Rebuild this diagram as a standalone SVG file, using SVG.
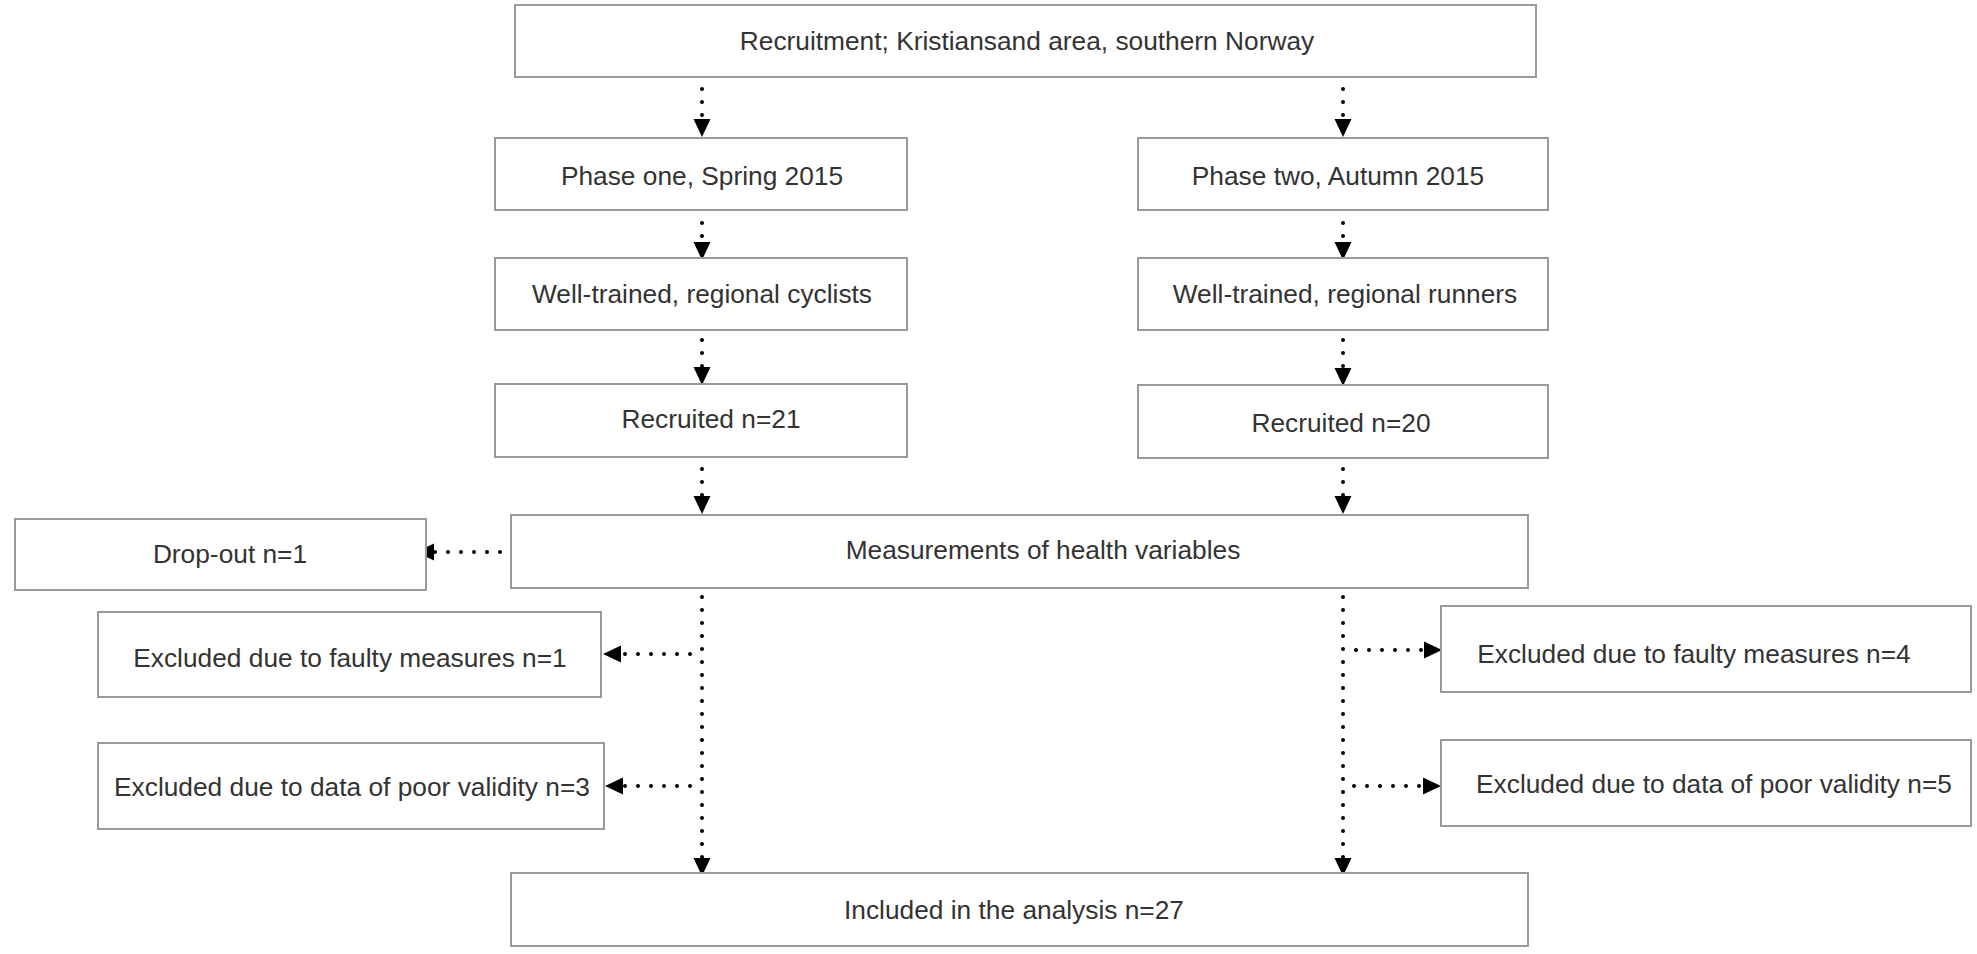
<svg xmlns="http://www.w3.org/2000/svg" width="1977" height="954" viewBox="0 0 1977 954">
<style>
.box{fill:#fff;stroke:#9a9a9a;stroke-width:2}
.t{font-family:"Liberation Sans",Arial,sans-serif;font-size:26.3px;fill:#333;text-anchor:middle}
.c{fill:none;stroke:#000;stroke-width:4;stroke-linecap:round;stroke-dasharray:0 13}
</style>
<defs>
<marker id="ah" markerUnits="userSpaceOnUse" markerWidth="20" markerHeight="20" viewBox="0 0 20 20" refX="19" refY="10" orient="auto">
<path d="M1,1.5 L19,10 L1,18.5 Z" fill="#000"/>
</marker>
</defs>
<rect width="1977" height="954" fill="#fff"/>
<g id="connectors">
<line class="c" x1="702" y1="89" x2="702" y2="137" marker-end="url(#ah)"/>
<line class="c" x1="1343" y1="89" x2="1343" y2="137" marker-end="url(#ah)"/>
<line class="c" x1="702" y1="223" x2="702" y2="260" marker-end="url(#ah)"/>
<line class="c" x1="1343" y1="223" x2="1343" y2="260" marker-end="url(#ah)"/>
<line class="c" x1="702" y1="340" x2="702" y2="385" marker-end="url(#ah)"/>
<line class="c" x1="1343" y1="340" x2="1343" y2="386" marker-end="url(#ah)"/>
<line class="c" x1="702" y1="469" x2="702" y2="514" marker-end="url(#ah)"/>
<line class="c" x1="1343" y1="469" x2="1343" y2="514" marker-end="url(#ah)"/>
<line class="c" x1="500" y1="552" x2="416" y2="552" marker-end="url(#ah)"/>
<line class="c" x1="702" y1="597" x2="702" y2="876" marker-end="url(#ah)"/>
<line class="c" x1="1343" y1="597" x2="1343" y2="876" marker-end="url(#ah)"/>
<line class="c" x1="690" y1="654" x2="603" y2="654" marker-end="url(#ah)"/>
<line class="c" x1="1356" y1="650" x2="1442" y2="650" marker-end="url(#ah)"/>
<line class="c" x1="690" y1="786" x2="605" y2="786" marker-end="url(#ah)"/>
<line class="c" x1="1354" y1="786" x2="1441" y2="786" marker-end="url(#ah)"/>
</g>
<g id="recruitment"><rect class="box" x="515" y="5" width="1021" height="72"/><text class="t" x="1027" y="50">Recruitment; Kristiansand area, southern Norway</text></g>
<g id="phase1"><rect class="box" x="495" y="138" width="412" height="72"/><text class="t" x="702" y="185">Phase one, Spring 2015</text></g>
<g id="phase2"><rect class="box" x="1138" y="138" width="410" height="72"/><text class="t" x="1338" y="185">Phase two, Autumn 2015</text></g>
<g id="cyclists"><rect class="box" x="495" y="258" width="412" height="72"/><text class="t" x="702" y="303">Well-trained, regional cyclists</text></g>
<g id="runners"><rect class="box" x="1138" y="258" width="410" height="72"/><text class="t" x="1345" y="303">Well-trained, regional runners</text></g>
<g id="recruited21"><rect class="box" x="495" y="384" width="412" height="73"/><text class="t" x="711" y="428">Recruited n=21</text></g>
<g id="recruited20"><rect class="box" x="1138" y="385" width="410" height="73"/><text class="t" x="1341" y="432">Recruited n=20</text></g>
<g id="measurements"><rect class="box" x="511" y="515" width="1017" height="73"/><text class="t" x="1043" y="559">Measurements of health variables</text></g>
<g id="dropout"><rect class="box" x="15" y="519" width="411" height="71"/><text class="t" x="230" y="563">Drop-out n=1</text></g>
<g id="faulty1"><rect class="box" x="98" y="612" width="503" height="85"/><text class="t" x="350" y="667">Excluded due to faulty measures n=1</text></g>
<g id="faulty4"><rect class="box" x="1441" y="606" width="530" height="86"/><text class="t" x="1694" y="663">Excluded due to faulty measures n=4</text></g>
<g id="poor3"><rect class="box" x="98" y="743" width="506" height="86"/><text class="t" x="352" y="796">Excluded due to data of poor validity n=3</text></g>
<g id="poor5"><rect class="box" x="1441" y="740" width="530" height="86"/><text class="t" x="1714" y="793">Excluded due to data of poor validity n=5</text></g>
<g id="included"><rect class="box" x="511" y="873" width="1017" height="73"/><text class="t" x="1014" y="919">Included in the analysis n=27</text></g>
</svg>
